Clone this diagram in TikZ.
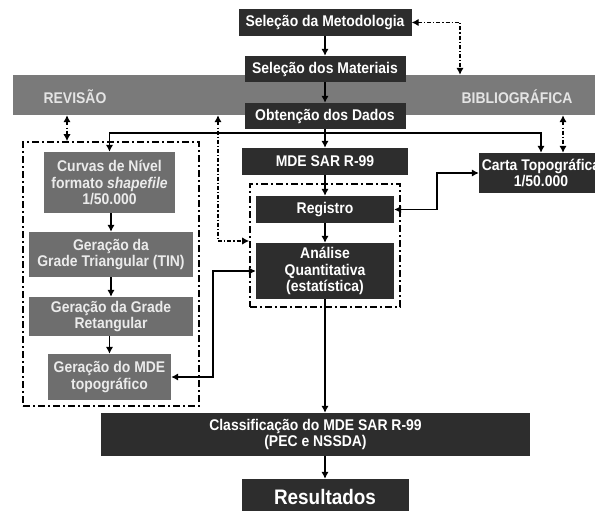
\documentclass[tikz,border=0pt]{standalone}
\usepackage{fontspec}
\setmainfont{Liberation Sans}[FakeStretch=0.9]
\usepackage{tikz}
\usetikzlibrary{arrows.meta}
\definecolor{boxdark}{RGB}{45,45,45}
\definecolor{boxgrey}{RGB}{110,110,110}
\definecolor{bandgrey}{RGB}{122,122,122}
\definecolor{bandtext}{RGB}{228,228,228}
\tikzset
{
  darkbox/.style   = {rectangle, fill=boxdark, text=white, align=center, inner sep=0pt, font={\fontsize{15.5}{16.7}\selectfont\bfseries}},
  greybox/.style   = {darkbox, fill=boxgrey, text=white!92!black},
  bandbox/.style   = {rectangle, fill=bandgrey, inner sep=0pt},
  bandlabel/.style = {text=bandtext, inner sep=0pt, font={\fontsize{15.5}{16.7}\selectfont\bfseries}},
  dashframe/.style = {rectangle, draw=black, line width=1.7pt, dash pattern=on 7pt off 3pt on 2pt off 3pt, inner sep=0pt},
  link/.style      = {draw=black, line width=1.8pt},
  dashlink/.style  = {draw=black, line width=1.4pt, dash pattern=on 4pt off 2pt on 1.2pt off 2pt}
}

\begin{document}
\begin{tikzpicture}[x=1pt, y=-1pt, >={Latex[length=7pt,width=7.5pt]}]
  \useasboundingbox (0,0) rectangle (595,511);
  \clip (0,0) rectangle (595,511);
  % faixa da revisao
  \node [bandbox, minimum width=590pt, minimum height=40pt] (band) at (308,95) {};
  \node [bandlabel] (revisao) at (75,97) {REVISÃO};
  \node [bandlabel] (biblio) at (517,97) {BIBLIOGRÁFICA};
  % coluna central
  \node [darkbox, minimum width=173pt, minimum height=27pt] (metod) at (325,22.5) {Seleção da Metodologia};
  \node [darkbox, minimum width=161pt, minimum height=26pt] (mater) at (325,69) {Seleção dos Materiais};
  \node [darkbox, minimum width=161pt, minimum height=26pt] (obten) at (325,116) {Obtenção dos Dados};
  \node [darkbox, minimum width=166pt, minimum height=27pt] (mdesar) at (325,161.5) {MDE SAR R-99};
  \node [darkbox, minimum width=124pt, minimum height=40pt] (carta) at (541,173) {Carta Topográfica\\1/50.000};
  \node [dashframe, minimum width=150pt, minimum height=123pt] (midframe) at (325,245.5) {};
  \node [darkbox, minimum width=138pt, minimum height=27pt] (registro) at (325,209.5) {Registro};
  \node [darkbox, minimum width=138pt, minimum height=56pt] (analise) at (325,271) {Análise\\Quantitativa\\(estatística)};
  \node [darkbox, minimum width=429pt, minimum height=43pt] (classif) at (315.5,434.5) {Classificação do MDE SAR R-99\\(PEC e NSSDA)};
  \node [darkbox, minimum width=167pt, minimum height=36pt, font={\fontsize{21}{24}\selectfont\bfseries}] (result) at (325,497) {Resultados};
  % coluna da esquerda
  \node [dashframe, minimum width=176pt, minimum height=264pt] (leftframe) at (111,274) {};
  \node [greybox, minimum width=131pt, minimum height=61pt] (curvas) at (109.5,182.5) {Curvas de Nível\\formato \textit{shapefile}\\1/50.000};
  \node [greybox, minimum width=164pt, minimum height=45pt] (tin) at (111,254.5) {Geração da\\Grade Triangular (TIN)};
  \node [greybox, minimum width=164pt, minimum height=39pt] (retang) at (111,316.5) {Geração da Grade\\Retangular};
  \node [greybox, minimum width=123pt, minimum height=46pt] (mdetopo) at (109.5,377) {Geração do MDE\\topográfico};
  % pontos auxiliares
  \coordinate (split) at (325,133);
  \coordinate (leftbus) at (213,0);
  \coordinate (rightbus) at (437,0);
  \coordinate (revleft) at (67,0);
  \coordinate (revmid) at (218,241);
  \coordinate (revright) at (563,0);
  \coordinate (revtop) at (460,0);
  % fluxo principal
  \draw [link, ->] (metod) -- (mater);
  \draw [link, ->] (mater) -- (obten);
  \draw [link, ->] (obten) -- (mdesar);
  \draw [link, ->] (split) -| (curvas.north);
  \draw [link, ->] (split) -| (carta.north);
  \draw [link, ->] (mdesar) -- (registro);
  \draw [link, ->] (registro) -- (analise);
  \draw [link, ->] (analise.south) -- (analise.south |- classif.north);
  \draw [link, ->] (classif.south -| result) -- (result);
  \draw [link, ->] (curvas.south -| tin) -- (tin);
  \draw [link, ->] (tin) -- (retang);
  \draw [link, ->] (retang.south -| mdetopo) -- (mdetopo);
  \draw [link, <->] (mdetopo.east) -| (leftbus |- analise.west) -- (analise.west);
  \draw [link, <->] (registro.east) -| (rightbus |- carta.west) -- (carta.west);
  % ligacoes com a revisao
  \draw [dashlink, <->] (metod.east) -| (band.north -| revtop);
  \draw [dashlink, <->] (band.south -| revleft) -- (leftframe.north -| revleft);
  \draw [dashlink, <->] (band.south -| revmid) |- (midframe.west |- revmid);
  \draw [dashlink, <->] (band.south -| revright) -- (carta.north -| revright);
\end{tikzpicture}
\end{document}
